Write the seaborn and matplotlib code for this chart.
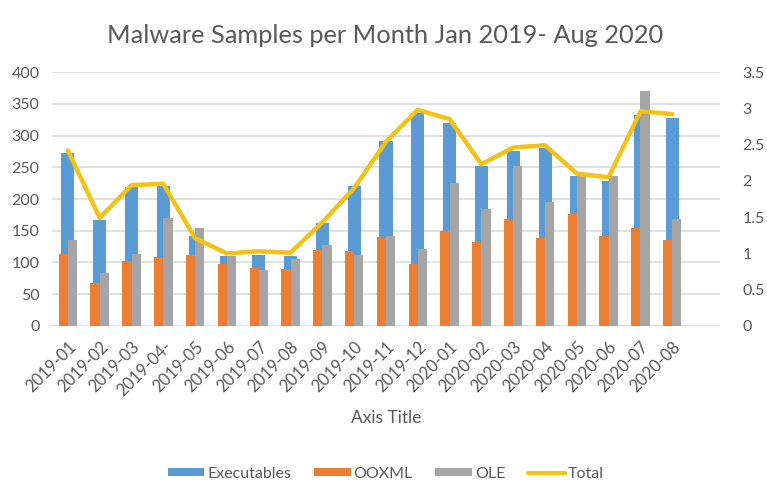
import matplotlib
matplotlib.use("Agg")
import matplotlib.pyplot as plt
import seaborn as sns
import pandas as pd
import numpy as np
from matplotlib.patches import Patch
from matplotlib.lines import Line2D

months = ["2019-01", "2019-02", "2019-03", "2019-04-", "2019-05", "2019-06", "2019-07",
          "2019-08", "2019-09", "2019-10", "2019-11", "2019-12", "2020-01", "2020-02",
          "2020-03", "2020-04", "2020-05", "2020-06", "2020-07", "2020-08"]
executables = [272, 167, 219, 221, 142, 111, 112, 110, 162, 221, 291, 335, 320, 252,
               276, 281, 236, 229, 332, 328]
ooxml = [113, 67, 102, 108, 112, 98, 91, 90, 119, 118, 140, 97, 149, 133,
         168, 139, 177, 141, 154, 136]
ole = [136, 83, 114, 170, 155, 110, 88, 106, 127, 112, 142, 122, 225, 185,
       252, 196, 236, 236, 370, 168]
total = [2.42, 1.49, 1.94, 1.96, 1.21, 1.0, 1.03, 1.01, 1.43, 1.9, 2.54, 2.98, 2.85, 2.23,
         2.46, 2.49, 2.10, 2.05, 2.96, 2.92]

left_ticks = [0, 50, 100, 150, 200, 250, 300, 350, 400]
right_ticks = [0, 0.5, 1, 1.5, 2, 2.5, 3, 3.5]
right_labels = ["0", "0.5", "1", "1.5", "2", "2.5", "3", "3.5"]

c_blue = "#5B9BD5"
c_orange = "#ED7D31"
c_gray = "#A5A5A5"
c_gold = "#F2C314"
txt = "#595959"
grid = "#D9D9D9"

sns.set_theme(style="white")
plt.rcParams["font.family"] = ["Lato", "DejaVu Sans"]

fig = plt.figure(figsize=(7.67, 4.98), dpi=100)
ax = fig.add_axes([0.0678, 0.3454, 0.8709, 0.51])

df_exe = pd.DataFrame({"month": months, "value": executables})
df_small = pd.DataFrame({
    "month": months * 2,
    "value": ooxml + ole,
    "series": ["OOXML"] * len(months) + ["OLE"] * len(months),
})

sns.barplot(data=df_exe, x="month", y="value", color=c_blue, width=0.41,
            ax=ax, saturation=1, zorder=2, linewidth=0, edgecolor="none")
sns.barplot(data=df_small, x="month", y="value", hue="series",
            palette={"OOXML": c_orange, "OLE": c_gray}, width=0.58, dodge=True,
            ax=ax, saturation=1, legend=False, zorder=3, linewidth=0,
            edgecolor="none")

ax.set_ylim(0, 400)
ax.set_xlim(-0.5, 20.5)
ax.set_yticks(left_ticks)
ax.set_yticklabels([str(t) for t in left_ticks])
ax.yaxis.grid(True, color=grid, linewidth=1.1, zorder=0)
ax.set_axisbelow(True)
for s in ax.spines.values():
    s.set_visible(False)
ax.tick_params(axis="both", length=0, colors=txt, labelsize=11.5)
ax.tick_params(axis="y", pad=9)
ax.set_xticks(range(len(months)))
ax.set_xticklabels(months, rotation=45, ha="right", rotation_mode="anchor",
                   fontsize=12, color=txt)
ax.tick_params(axis="x", pad=9)
ax.set_ylabel("")
ax.set_xlabel("Axis Title", fontsize=12.5, color=txt, labelpad=8)

ax2 = ax.twinx()
df_tot = pd.DataFrame({"x": np.arange(len(months)), "total": total})
sns.lineplot(data=df_tot, x="x", y="total", color=c_gold, linewidth=3.2, ax=ax2,
             zorder=5)
ax2.set_ylim(0, 3.5)
ax2.set_yticks(right_ticks)
ax2.set_yticklabels(right_labels)
ax2.set_ylabel("")
for s in ax2.spines.values():
    s.set_visible(False)
ax2.tick_params(axis="y", length=0, colors=txt, labelsize=11.5, pad=16)
ax2.grid(False)
ax.set_xlim(-0.5, 20.5)

fig.suptitle("Malware Samples per Month Jan 2019- Aug 2020", fontsize=18.3,
             color=txt, x=0.502, y=0.952)

handles = [Patch(facecolor=c_blue, edgecolor="none", label="Executables"),
           Patch(facecolor=c_orange, edgecolor="none", label="OOXML"),
           Patch(facecolor=c_gray, edgecolor="none", label="OLE"),
           Line2D([0], [0], color=c_gold, linewidth=3, label="Total")]
leg = fig.legend(handles=handles, loc="center", bbox_to_anchor=(0.503, 0.049),
                 ncol=4, frameon=False, fontsize=11.5, handlelength=2.3,
                 handleheight=0.45, handletextpad=0.2, columnspacing=1.4)
for t in leg.get_texts():
    t.set_color(txt)

fig.savefig("out.png", dpi=100, facecolor="white")
